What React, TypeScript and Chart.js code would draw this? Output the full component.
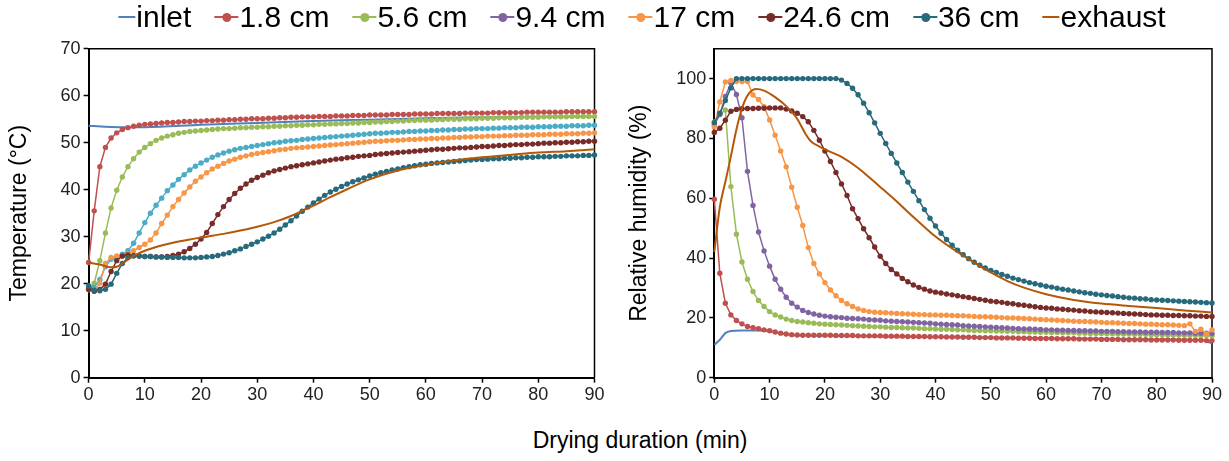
import React, { useEffect, useRef } from 'react';
import { Chart, registerables } from 'chart.js';
Chart.register(...registerables);

// ---------- labels ----------
const seriesNames = ['inlet', '1.8 cm', '5.6 cm', '9.4 cm', '17 cm', '24.6 cm', '36 cm', 'exhaust'];
const legendColors = ['#4F81BD', '#C0504D', '#9BBB59', '#8064A2', '#F79646', '#772C2A', '#276A7C', '#B65708'];
const leftColors = ['#4F81BD', '#C0504D', '#9BBB59', '#4BACC6', '#F79646', '#772C2A', '#276A7C', '#B65708'];
const hasMarker = [false, true, true, true, true, true, true, false];
const xTitle = 'Drying duration (min)';
const leftYTitle = 'Temperature (°C)';
const rightYTitle = 'Relative humidity (%)';

// ---------- temperature (°C), one value per minute 0..90 ----------
const temp_1_8 = [24.5, 35.5, 44.9, 49.0, 51.0, 52.1, 52.8, 53.2, 53.5, 53.7,
  53.9, 54.0, 54.1, 54.2, 54.3, 54.3, 54.4, 54.5, 54.5, 54.6,
  54.6, 54.7, 54.7, 54.8, 54.8, 54.9, 54.9, 55.0, 55.0, 55.1,
  55.1, 55.1, 55.2, 55.2, 55.3, 55.3, 55.4, 55.4, 55.5, 55.5,
  55.5, 55.6, 55.6, 55.6, 55.7, 55.7, 55.7, 55.8, 55.8, 55.8,
  55.9, 55.9, 55.9, 55.9, 56.0, 56.0, 56.0, 56.0, 56.1, 56.1,
  56.1, 56.1, 56.2, 56.2, 56.2, 56.2, 56.2, 56.3, 56.3, 56.3,
  56.3, 56.3, 56.4, 56.4, 56.4, 56.4, 56.4, 56.4, 56.5, 56.5,
  56.5, 56.5, 56.5, 56.5, 56.5, 56.6, 56.6, 56.6, 56.6, 56.6, 56.6];
const temp_5_6 = [19.0, 20.1, 24.9, 30.8, 36.1, 39.9, 42.7, 44.9, 46.6, 48.0,
  49.0, 49.8, 50.5, 51.0, 51.4, 51.7, 52.0, 52.2, 52.4, 52.5,
  52.6, 52.7, 52.8, 52.9, 53.0, 53.0, 53.1, 53.2, 53.2, 53.3,
  53.3, 53.4, 53.4, 53.5, 53.5, 53.6, 53.6, 53.7, 53.7, 53.8,
  53.8, 53.9, 53.9, 54.0, 54.0, 54.1, 54.1, 54.2, 54.2, 54.3,
  54.3, 54.4, 54.4, 54.5, 54.5, 54.6, 54.6, 54.7, 54.7, 54.8,
  54.8, 54.8, 54.9, 54.9, 55.0, 55.0, 55.0, 55.1, 55.1, 55.1,
  55.2, 55.2, 55.2, 55.3, 55.3, 55.3, 55.3, 55.4, 55.4, 55.4,
  55.4, 55.5, 55.5, 55.5, 55.5, 55.5, 55.6, 55.6, 55.6, 55.6, 55.6];
const temp_9_4 = [19.5, 19.2, 20.9, 23.6, 25.2, 25.6, 26.3, 27.0, 28.6, 30.8,
  33.0, 35.0, 36.7, 38.2, 39.8, 41.0, 42.2, 43.2, 44.2, 45.0,
  45.7, 46.3, 46.9, 47.4, 47.8, 48.2, 48.5, 48.8, 49.0, 49.2,
  49.4, 49.6, 49.8, 50.0, 50.1, 50.3, 50.4, 50.5, 50.7, 50.8,
  50.9, 51.0, 51.1, 51.2, 51.3, 51.4, 51.5, 51.6, 51.7, 51.8,
  51.9, 52.0, 52.0, 52.1, 52.2, 52.2, 52.3, 52.4, 52.4, 52.5,
  52.5, 52.6, 52.6, 52.7, 52.7, 52.8, 52.8, 52.9, 52.9, 53.0,
  53.0, 53.0, 53.1, 53.1, 53.2, 53.2, 53.2, 53.3, 53.3, 53.3,
  53.4, 53.4, 53.4, 53.5, 53.5, 53.5, 53.6, 53.6, 53.6, 53.7, 53.7];
const temp_17 = [18.7, 18.5, 20.1, 24.3, 25.6, 25.9, 25.9, 26.4, 27.0, 27.7,
  28.4, 29.3, 30.8, 32.8, 34.6, 36.4, 37.9, 39.3, 40.6, 41.8,
  42.7, 43.6, 44.4, 45.0, 45.6, 46.1, 46.5, 46.9, 47.2, 47.5,
  47.7, 47.9, 48.1, 48.3, 48.5, 48.6, 48.8, 48.9, 49.0, 49.1,
  49.2, 49.3, 49.4, 49.5, 49.6, 49.7, 49.8, 49.9, 50.0, 50.1,
  50.2, 50.3, 50.3, 50.4, 50.5, 50.5, 50.6, 50.7, 50.7, 50.8,
  50.8, 50.9, 50.9, 51.0, 51.0, 51.1, 51.1, 51.2, 51.2, 51.3,
  51.3, 51.4, 51.4, 51.4, 51.5, 51.5, 51.6, 51.6, 51.6, 51.7,
  51.7, 51.7, 51.8, 51.8, 51.8, 51.9, 51.9, 51.9, 52.0, 52.0, 52.1];
const temp_24_6 = [18.8, 18.4, 18.8, 19.9, 22.6, 24.9, 25.9, 26.1, 26.0, 25.9,
  25.8, 25.8, 25.7, 25.7, 25.8, 26.0, 26.3, 26.8, 27.5, 28.4,
  29.5, 30.9, 32.8, 34.7, 36.4, 37.9, 39.2, 40.3, 41.2, 42.0,
  42.6, 43.1, 43.6, 44.0, 44.3, 44.6, 44.9, 45.1, 45.3, 45.5,
  45.7, 45.9, 46.1, 46.3, 46.5, 46.6, 46.8, 46.9, 47.1, 47.2,
  47.3, 47.5, 47.6, 47.7, 47.8, 47.9, 48.0, 48.1, 48.2, 48.3,
  48.4, 48.5, 48.6, 48.6, 48.7, 48.8, 48.9, 48.9, 49.0, 49.1,
  49.2, 49.2, 49.3, 49.4, 49.4, 49.5, 49.6, 49.6, 49.7, 49.7,
  49.8, 49.9, 49.9, 50.0, 50.0, 50.1, 50.1, 50.2, 50.2, 50.3, 50.3];
const temp_36 = [19.5, 18.6, 18.5, 18.8, 19.9, 22.2, 24.3, 25.6, 25.9, 25.9,
  25.8, 25.8, 25.7, 25.7, 25.6, 25.6, 25.6, 25.5, 25.5, 25.5,
  25.6, 25.7, 25.8, 26.0, 26.3, 26.6, 27.0, 27.4, 27.9, 28.4,
  28.9, 29.5, 30.1, 30.8, 31.6, 32.5, 33.4, 34.4, 35.4, 36.3,
  37.2, 38.0, 38.8, 39.5, 40.1, 40.7, 41.2, 41.7, 42.1, 42.5,
  42.9, 43.3, 43.6, 43.9, 44.2, 44.4, 44.7, 44.9, 45.1, 45.3,
  45.4, 45.6, 45.7, 45.8, 45.9, 46.0, 46.1, 46.2, 46.3, 46.4,
  46.4, 46.5, 46.6, 46.6, 46.7, 46.7, 46.8, 46.8, 46.9, 46.9,
  47.0, 47.0, 47.0, 47.1, 47.1, 47.2, 47.2, 47.2, 47.3, 47.3, 47.4];
const tempInlet = [[0, 53.6], [3, 53.4], [6, 53.3], [10, 53.3], [20, 53.8], [30, 54.2], [40, 54.6], [50, 54.9], [60, 55.2], [70, 55.4], [80, 55.5], [90, 55.6]];
const tempExhaust = [[0, 24.5], [2, 24.1], [4, 23.5], [5, 23.6], [6, 24.3], [8, 25.9], [10, 27.0], [12, 27.8], [15, 28.7], [18, 29.4], [21, 30.0], [24, 30.6], [27, 31.3], [30, 32.1], [33, 33.1], [36, 34.4], [38, 35.5], [40, 36.6], [43, 38.4], [46, 40.1], [50, 42.2], [55, 44.1], [60, 45.3], [65, 46.2], [70, 46.9], [75, 47.4], [80, 47.9], [85, 48.2], [90, 48.6]];

// ---------- relative humidity (%), one value per minute 0..90 ----------
const rh_1_8 = [59.7, 34.9, 24.9, 21.0, 19.1, 18.0, 17.1, 16.7, 16.4, 16.0,
  15.7, 15.3, 14.9, 14.6, 14.4, 14.3, 14.2, 14.2, 14.2, 14.2,
  14.2, 14.2, 14.1, 14.1, 14.1, 14.1, 14.0, 14.0, 14.0, 14.0,
  14.0, 13.9, 13.9, 13.9, 13.9, 13.8, 13.8, 13.8, 13.8, 13.7,
  13.7, 13.7, 13.6, 13.6, 13.6, 13.5, 13.5, 13.5, 13.4, 13.4,
  13.4, 13.3, 13.3, 13.3, 13.3, 13.2, 13.2, 13.2, 13.1, 13.1,
  13.1, 13.1, 13.0, 13.0, 13.0, 13.0, 12.9, 12.9, 12.9, 12.9,
  12.8, 12.8, 12.8, 12.8, 12.7, 12.7, 12.7, 12.7, 12.7, 12.6,
  12.6, 12.6, 12.6, 12.6, 12.5, 12.5, 12.5, 12.5, 12.5, 12.4, 12.4];
const rh_5_6 = [85.5, 88.0, 89.5, 63.9, 48.0, 38.7, 32.9, 28.8, 25.8, 23.8,
  22.1, 21.0, 20.3, 19.6, 19.1, 18.8, 18.6, 18.4, 18.2, 18.0,
  17.9, 17.8, 17.7, 17.6, 17.5, 17.4, 17.3, 17.2, 17.1, 17.0,
  17.0, 16.9, 16.8, 16.8, 16.7, 16.6, 16.6, 16.5, 16.4, 16.4,
  16.3, 16.2, 16.2, 16.1, 16.0, 16.0, 15.9, 15.8, 15.8, 15.7,
  15.7, 15.6, 15.6, 15.5, 15.5, 15.4, 15.4, 15.3, 15.3, 15.2,
  15.2, 15.1, 15.1, 15.0, 15.0, 15.0, 14.9, 14.9, 14.8, 14.8,
  14.8, 14.7, 14.7, 14.6, 14.6, 14.6, 14.5, 14.5, 14.5, 14.4,
  14.4, 14.4, 14.3, 14.3, 14.3, 14.2, 14.2, 14.2, 14.1, 14.1, 14.0];
const rh_9_4 = [84.5, 88.0, 94.0, 98.5, 94.7, 86.9, 69.0, 57.6, 48.7, 42.4,
  37.3, 32.9, 29.6, 26.9, 24.9, 23.6, 22.5, 21.8, 21.3, 20.9,
  20.6, 20.4, 20.2, 20.1, 19.9, 19.8, 19.7, 19.6, 19.4, 19.3,
  19.2, 19.0, 18.9, 18.8, 18.7, 18.6, 18.5, 18.4, 18.3, 18.2,
  18.0, 17.9, 17.8, 17.7, 17.6, 17.4, 17.3, 17.2, 17.1, 17.0,
  16.9, 16.8, 16.7, 16.6, 16.5, 16.4, 16.3, 16.3, 16.2, 16.1,
  16.0, 16.0, 15.9, 15.9, 15.8, 15.8, 15.7, 15.7, 15.6, 15.6,
  15.5, 15.5, 15.5, 15.4, 15.4, 15.3, 15.3, 15.3, 15.2, 15.2,
  15.2, 15.1, 15.1, 15.1, 15.0, 15.0, 15.0, 14.9, 14.9, 14.9, 14.8];
const rh_17 = [83.8, 92.2, 98.9, 99.4, 99.0, 99.0, 99.0, 94.5, 93.0, 90.6,
  86.2, 81.1, 75.8, 70.5, 63.7, 57.0, 50.9, 43.5, 38.2, 34.7,
  31.8, 29.3, 27.4, 25.8, 24.7, 23.8, 23.0, 22.5, 22.1, 21.9,
  21.8, 21.7, 21.6, 21.5, 21.4, 21.3, 21.2, 21.1, 21.1, 21.0,
  21.0, 20.9, 20.9, 20.8, 20.7, 20.7, 20.6, 20.5, 20.4, 20.4,
  20.3, 20.2, 20.1, 20.0, 20.0, 19.9, 19.8, 19.7, 19.6, 19.5,
  19.4, 19.3, 19.2, 19.1, 19.0, 18.9, 18.8, 18.8, 18.7, 18.6,
  18.5, 18.4, 18.4, 18.3, 18.2, 18.1, 18.1, 18.0, 17.9, 17.9,
  17.8, 17.7, 17.7, 17.6, 17.5, 17.4, 18.0, 15.5, 16.2, 14.6, 16.0];
const rh_24_6 = [82.0, 83.4, 86.1, 89.1, 89.7, 89.9, 90.0, 90.0, 90.1, 90.1,
  90.2, 90.2, 90.2, 89.8, 89.2, 88.4, 87.3, 85.6, 82.7, 79.4,
  75.8, 72.3, 68.6, 64.8, 60.9, 56.5, 53.2, 49.8, 46.8, 43.7,
  40.6, 38.2, 36.2, 34.7, 33.2, 32.1, 31.0, 30.2, 29.6, 29.0,
  28.6, 28.3, 28.0, 27.7, 27.4, 27.1, 26.8, 26.5, 26.2, 25.9,
  25.6, 25.4, 25.2, 24.9, 24.7, 24.4, 24.2, 24.0, 23.7, 23.5,
  23.3, 23.2, 23.0, 22.9, 22.7, 22.6, 22.4, 22.3, 22.1, 22.0,
  21.9, 21.8, 21.7, 21.6, 21.5, 21.4, 21.3, 21.2, 21.1, 21.0,
  21.0, 20.9, 20.9, 20.8, 20.8, 20.7, 20.7, 20.6, 20.6, 20.5, 20.5];
const rh_36 = [85.3, 88.4, 92.7, 96.9, 100.0, 100.0, 100.0, 100.0, 100.0, 100.0,
  100.0, 100.0, 100.0, 100.0, 100.0, 100.0, 100.0, 100.0, 100.0, 100.0,
  100.0, 100.0, 100.0, 99.5, 98.4, 96.8, 94.6, 91.8, 88.6, 85.2,
  81.7, 78.3, 75.0, 71.8, 68.6, 65.4, 62.3, 59.2, 56.2, 53.3,
  50.7, 48.3, 46.2, 44.3, 42.6, 41.1, 39.8, 38.6, 37.6, 36.7,
  35.9, 35.2, 34.5, 33.9, 33.3, 32.8, 32.3, 31.8, 31.4, 31.0,
  30.6, 30.3, 29.9, 29.6, 29.3, 29.0, 28.7, 28.4, 28.2, 27.9,
  27.7, 27.5, 27.3, 27.1, 26.9, 26.7, 26.6, 26.4, 26.3, 26.1,
  26.0, 25.9, 25.8, 25.7, 25.6, 25.5, 25.4, 25.3, 25.2, 25.1, 25.0];
const rhInlet = [[0, 11.0], [1, 12.7], [2, 14.9], [3, 15.6], [5, 15.8], [8, 15.8], [10, 15.5], [12, 14.8], [14, 14.3], [20, 14.0], [30, 13.8], [40, 13.6], [50, 13.4], [60, 13.2], [70, 13.0], [80, 12.8], [88, 12.6], [90, 11.5]];
const rhExhaust = [[0, 42.0], [1, 57.0], [2, 65.5], [3, 74.0], [4, 83.0], [5, 90.0], [6, 94.3], [7.5, 96.5], [9, 96.0], [11, 93.8], [13, 90.8], [15, 86.5], [16.5, 81.5], [17.5, 79.0], [19, 77.3], [21, 75.5], [23, 73.8], [26, 70.1], [28, 67.0], [30, 63.8], [33, 58.9], [35, 55.4], [38, 50.4], [40, 47.2], [43, 43.2], [47, 38.5], [50, 35.2], [53, 32.3], [56, 30.1], [60, 27.9], [65, 26.0], [70, 24.8], [75, 24.0], [80, 23.3], [85, 22.5], [90, 21.8]];

const FONT = '"Liberation Sans", Arial, Helvetica, sans-serif';
const TICK_SIZE = 18;

function markerDs(label: string, values: number[], color: string, idx: number) {
  return {
    label,
    data: values.map((y, x) => ({ x, y })),
    borderColor: color,
    backgroundColor: color,
    borderWidth: 1.5,
    pointRadius: 2.7,
    pointBorderWidth: 0,
    pointBackgroundColor: color,
    tension: 0,
    order: 10 - idx,
    clip: 8,
  };
}
function lineDs(label: string, pairs: number[][], color: string, idx: number) {
  return {
    label,
    data: pairs.map(([x, y]) => ({ x, y })),
    borderColor: color,
    backgroundColor: color,
    borderWidth: 2,
    pointRadius: 0,
    cubicInterpolationMode: 'monotone',
    order: 10 - idx,
    clip: 8,
  };
}

const framePlugin = {
  id: 'frame',
  beforeDatasetsDraw(chart: any) {
    const { ctx, chartArea } = chart;
    const { left, top, right, bottom } = chartArea;
    ctx.save();
    ctx.strokeStyle = '#000';
    ctx.lineWidth = 1.5;
    ctx.beginPath();
    ctx.moveTo(left, top);
    ctx.lineTo(right, top);
    ctx.lineTo(right, bottom);
    ctx.stroke();
    ctx.restore();
  },
};

function makeOptions(yMax: number, yStep: number, yTitle: string, yWidth: number, padRight: number, titlePad: number) {
  return {
    responsive: false,
    animation: false,
    devicePixelRatio: 1,
    layout: { padding: { top: 48.7, right: padRight, left: 0, bottom: 0 } },
    plugins: { legend: { display: false }, tooltip: { enabled: false } },
    scales: {
      x: {
        type: 'linear',
        min: 0,
        max: 90,
        afterFit: (s: any) => { s.height = 42.3; },
        ticks: { stepSize: 10, color: '#222', font: { family: FONT, size: TICK_SIZE }, padding: 2, maxRotation: 0 },
        grid: { display: true, drawOnChartArea: false, drawTicks: true, tickLength: 5, color: '#000', tickWidth: 1.5 },
        border: { display: true, color: '#000', width: 2 },
      },
      y: {
        type: 'linear',
        min: 0,
        max: yMax,
        afterFit: (s: any) => { s.width = yWidth; },
        ticks: { stepSize: yStep, includeBounds: false, color: '#222', font: { family: FONT, size: TICK_SIZE }, padding: 3 },
        grid: { display: true, drawOnChartArea: false, drawTicks: true, tickLength: 5, color: '#000', tickWidth: 1.5 },
        border: { display: true, color: '#000', width: 2 },
        title: { display: true, text: yTitle, color: '#000', font: { family: FONT, size: 23 }, padding: { top: titlePad, bottom: 0 } },
      },
    },
  };
}

function ChartCanvas({ config, width, height, left }: any) {
  const ref = useRef<HTMLCanvasElement | null>(null);
  useEffect(() => {
    if (!ref.current) return;
    const chart = new Chart(ref.current, config);
    return () => chart.destroy();
  }, []);
  return (
    <canvas ref={ref} width={width} height={height}
      style={{ position: 'absolute', left, top: 0, width, height }} />
  );
}

export default function App() {
  useEffect(() => { document.body.style.margin = '0'; }, []);

  const tempSeries = [temp_1_8, temp_5_6, temp_9_4, temp_17, temp_24_6, temp_36];
  const rhSeries = [rh_1_8, rh_5_6, rh_9_4, rh_17, rh_24_6, rh_36];

  const leftDatasets: any[] = [lineDs(seriesNames[0], tempInlet, leftColors[0], 0)];
  tempSeries.forEach((v, i) => leftDatasets.push(markerDs(seriesNames[i + 1], v, leftColors[i + 1], i + 1)));
  leftDatasets.push(lineDs(seriesNames[7], tempExhaust, leftColors[7], 7));

  const rightDatasets: any[] = [lineDs(seriesNames[0], rhInlet, legendColors[0], 0)];
  rhSeries.forEach((v, i) => rightDatasets.push(markerDs(seriesNames[i + 1], v, legendColors[i + 1], i + 1)));
  rightDatasets.push(lineDs(seriesNames[7], rhExhaust, legendColors[7], 7));

  const leftConfig = {
    type: 'line',
    data: { datasets: leftDatasets },
    options: makeOptions(70, 10, leftYTitle, 88.6, 615 - 594.5, 6),
    plugins: [framePlugin],
  };
  const rightConfig = {
    type: 'line',
    data: { datasets: rightDatasets },
    options: makeOptions(110, 20, rightYTitle, 99.3, 614 - 597, 11),
    plugins: [framePlugin],
  };

  return (
    <div style={{ position: 'fixed', left: 0, top: 0, width: 1229, height: 461, background: '#fff', overflow: 'hidden', fontFamily: FONT }}>
      <ChartCanvas config={leftConfig} width={615} height={420} left={0} />
      <ChartCanvas config={rightConfig} width={614} height={420} left={615} />
      <div style={{ position: 'absolute', left: 642, top: 0, transform: 'translateX(-50%)', display: 'flex', alignItems: 'center', whiteSpace: 'nowrap', fontSize: 30, lineHeight: '34px', color: '#000' }}>
        {seriesNames.map((name, i) => (
          <div key={name} style={{ display: 'flex', alignItems: 'center', marginLeft: i === 0 ? 0 : 23 }}>
            <span style={{ position: 'relative', display: 'inline-block', width: hasMarker[i] ? 24 : 17, height: 2, background: legendColors[i], marginRight: 1 }}>
              {hasMarker[i] && (
                <span style={{ position: 'absolute', left: 8, top: -3.5, width: 9, height: 9, borderRadius: 4.5, background: legendColors[i] }} />
              )}
            </span>
            <span>{name}</span>
          </div>
        ))}
      </div>
      <div style={{ position: 'absolute', left: 640, top: 426, transform: 'translateX(-50%)', fontSize: 23, lineHeight: '28px', color: '#000', whiteSpace: 'nowrap' }}>
        {xTitle}
      </div>
    </div>
  );
}
